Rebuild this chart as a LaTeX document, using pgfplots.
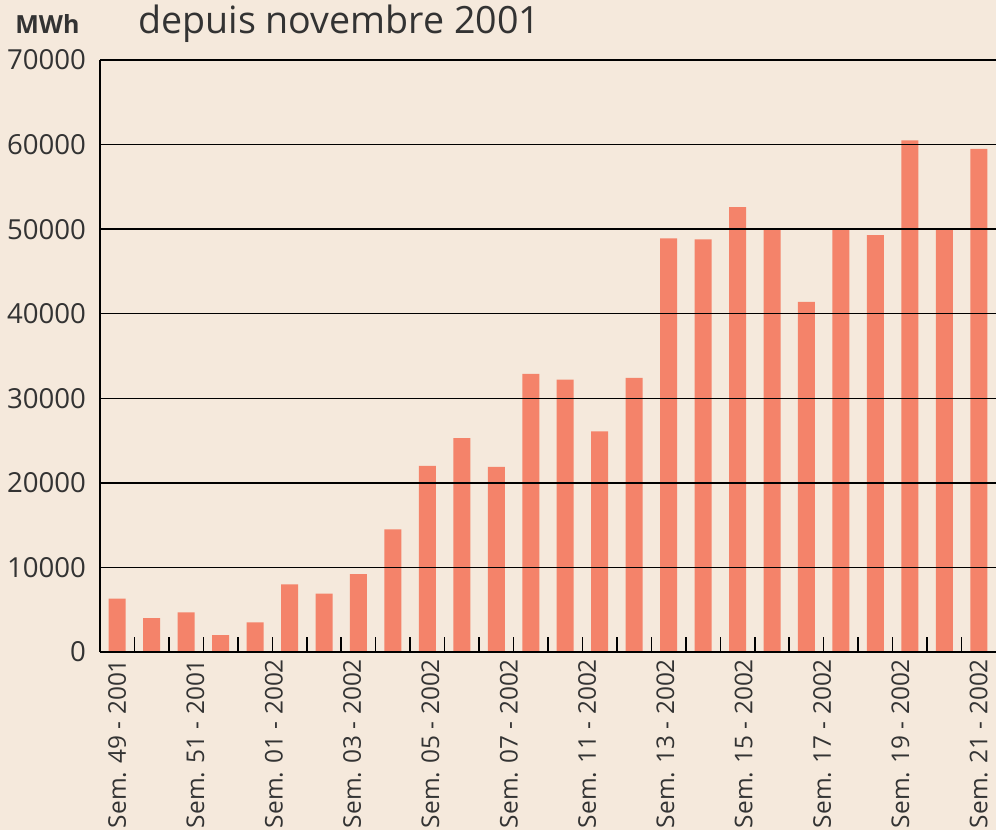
\documentclass[border=0pt]{standalone}
\usepackage{pgfplots}
\pgfplotsset{compat=1.18}
\usepackage{fontspec}
\setmainfont{Open Sans}
\definecolor{bg}{HTML}{F5E9DC}
\definecolor{barc}{HTML}{F4836A}
\definecolor{txt}{HTML}{333333}
\begin{document}
\begin{tikzpicture}
\fill[bg] (-50pt,-89pt) rectangle (448pt,326pt);
\begin{axis}[
 at={(0pt,0pt)}, anchor=south west,
 scale only axis, width=448pt, height=296pt,
 xmin=-0.5, xmax=25.5, ymin=0, ymax=70000,
 axis x line=bottom, axis y line=left,
 axis line style={-, line width=1.1pt, black},
 axis on top,
 ytick={0,10000,20000,30000,40000,50000,60000,70000},
 ymajorgrids, major grid style={black, line width=0.75pt},
 scaled y ticks=false,
 yticklabel style={/pgf/number format/set thousands separator={}, /pgf/number format/assume math mode=true, font=\fontsize{13.8}{14}\selectfont, text=txt, xshift=-3.5pt},
 xtick={0,2.2727,4.5455,6.8182,9.0909,11.3636,13.6364,15.9091,18.1818,20.4545,22.7273,25},
 xticklabels={Sem. 49 - 2001,Sem. 51 - 2001,Sem. 01 - 2002,Sem. 03 - 2002,Sem. 05 - 2002,Sem. 07 - 2002,Sem. 11 - 2002,Sem. 13 - 2002,Sem. 15 - 2002,Sem. 17 - 2002,Sem. 19 - 2002,Sem. 21 - 2002},
 xticklabel style={rotate=90, anchor=east, font=\fontsize{12.2}{13}\selectfont, text=txt},
 minor xtick={0.5,1.5,...,24.5},
 major tick length=0pt, minor tick length=7.5pt, tick align=inside,
 minor tick style={black, line width=0.75pt},
]
\addplot[ybar, bar width=8.5pt, fill=barc, draw=none] coordinates {
(0,6300) (1,4000) (2,4700) (3,2000) (4,3500) (5,8000) (6,6900) (7,9200)
(8,14500) (9,22000) (10,25300) (11,21900) (12,32900) (13,32200) (14,26100)
(15,32400) (16,48900) (17,48800) (18,52600) (19,50100) (20,41400) (21,50100)
(22,49300) (23,60500) (24,50100) (25,59500)
};
\end{axis}
\node[anchor=base west, font=\fontsize{18.8}{22}\selectfont, text=txt, inner sep=0pt] at (19pt,309pt) {depuis novembre 2001};
\node[anchor=base west, font=\bfseries\fontsize{12.5}{14}\selectfont, text=txt, inner sep=0pt] at (-42.5pt,309pt) {MWh};
\pgfresetboundingbox
\useasboundingbox (-50pt,-89pt) rectangle (448pt,326pt);
\end{tikzpicture}
\end{document}
